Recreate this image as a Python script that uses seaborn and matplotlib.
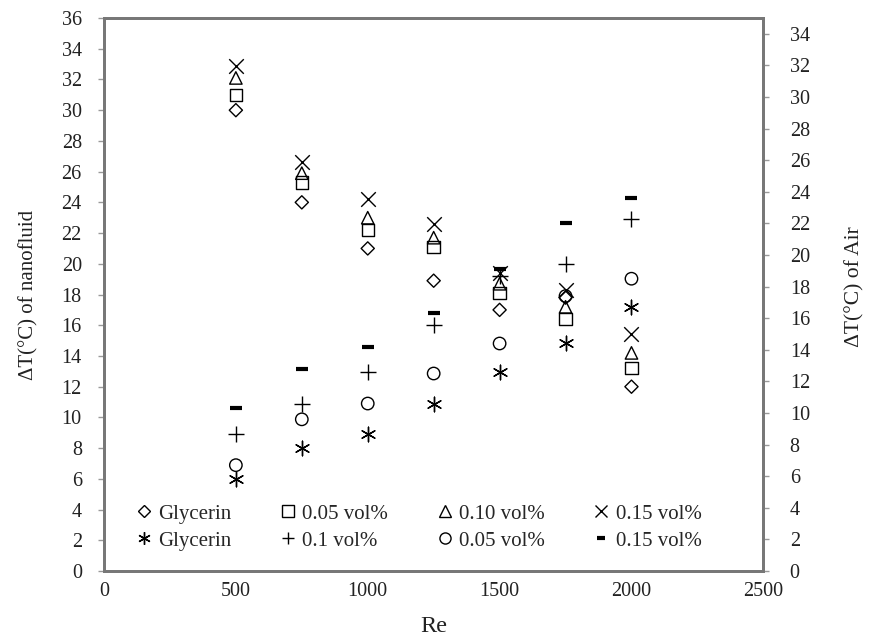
import matplotlib
matplotlib.use("Agg")
import matplotlib.pyplot as plt
import seaborn as sns
import pandas as pd
from matplotlib.lines import Line2D

sns.set_theme(style="white")
plt.rcParams['font.family'] = ['Liberation Serif', 'DejaVu Serif']

re_vals = [500, 750, 1000, 1250, 1500, 1750, 2000]

# Nanofluid dT (left axis)
nf_glycerin = [30.0, 24.0, 21.0, 18.9, 17.0, 17.8, 12.0]
nf_005 = [31.0, 25.3, 22.2, 21.1, 18.1, 16.4, 13.2]
nf_010 = [32.1, 25.9, 23.0, 21.7, 18.7, 17.2, 14.2]
nf_015 = [32.9, 26.6, 24.2, 22.6, 19.4, 18.3, 15.4]

# Air dT (right axis)
air_glycerin = [5.8, 7.8, 8.7, 10.6, 12.6, 14.4, 16.7]
air_01 = [8.7, 10.6, 12.6, 15.6, 18.7, 19.4, 22.3]
air_005 = [6.7, 9.6, 10.6, 12.5, 14.4, 17.4, 18.5]
air_015 = [10.3, 12.8, 14.2, 16.3, 19.1, 22.0, 23.6]

labels_nf = ["Glycerin", "0.05 vol%", "0.10 vol%", "0.15 vol%"]
labels_air = ["Glycerin", "0.1 vol%", "0.05 vol%", "0.15 vol%"]

fig = plt.figure(figsize=(8.71, 6.39), dpi=100)
ax = fig.add_axes([0.1194, 0.1064, 0.757, 0.8654])
ax2 = ax.twinx()

asterisk = (6, 2, 0)
k = "black"

nf_specs = [(nf_glycerin, "D", 45, True), (nf_005, "s", 80, True),
            (nf_010, "^", 80, True), (nf_015, "x", 110, False)]
air_specs = [(air_glycerin, asterisk, 110, False), (air_01, "+", 120, False),
             (air_005, "o", 80, True), (air_015, "_", 70, False)]

for vals, m, s, filled in nf_specs:
    df = pd.DataFrame({"Re": re_vals, "dT": vals})
    if filled:
        sns.scatterplot(data=df, x="Re", y="dT", ax=ax, marker=m, s=s,
                        facecolor="none", edgecolor=k, linewidth=1.0)
    else:
        sns.scatterplot(data=df, x="Re", y="dT", ax=ax, marker=m, s=s,
                        color=k, linewidth=1.0)

for vals, m, s, filled in air_specs:
    df = pd.DataFrame({"Re": re_vals, "dT": vals})
    if filled:
        sns.scatterplot(data=df, x="Re", y="dT", ax=ax2, marker=m, s=s,
                        facecolor="none", edgecolor=k, linewidth=1.0)
    else:
        lw = 3.0 if m == "_" else 1.0
        sns.scatterplot(data=df, x="Re", y="dT", ax=ax2, marker=m, s=s,
                        color=k, linewidth=lw)

ax.set_xlim(0, 2500)
ax.set_ylim(0, 36)
ax2.set_ylim(0, 35)
ax.set_xticks(range(0, 2501, 500))
ax.set_yticks(range(0, 37, 2))
ax2.set_yticks(range(0, 35, 2))

ax.set_xlabel("Re", fontsize=17.5, color="#222222")
ax.set_ylabel("ΔT(°C) of nanofluid", fontsize=15, color="#222222")
ax2.set_ylabel("ΔT(°C) of Air", fontsize=15.5, color="#222222")
ax.xaxis.set_label_coords(0.5, -0.081)
ax.yaxis.set_label_coords(-0.099, 0.5)
ax2.yaxis.set_label_coords(1.124, 0.515)

for a in (ax, ax2):
    for sp in a.spines.values():
        sp.set_color("#777777")
        sp.set_linewidth(2.0)
    a.tick_params(axis="both", labelsize=14.5, colors="#222222", length=4,
                  width=1, direction="out")
    a.tick_params(axis="both", which="major", color="#999999")
ax.tick_params(axis="x", length=0, pad=8)
ax.tick_params(axis="y", pad=12, left=True)
ax2.tick_params(axis="y", pad=15, right=True)

def h(m, filled, ms, mew=1.0):
    if filled:
        return Line2D([], [], linestyle="none", marker=m, markersize=ms,
                      markerfacecolor="none", markeredgecolor=k, markeredgewidth=mew)
    return Line2D([], [], linestyle="none", marker=m, markersize=ms,
                  color=k, markeredgewidth=mew)

hd = h("D", True, 6)
hs = h("s", True, 8)
ht = h("^", True, 8)
hx = h("x", False, 9)
ha = h(asterisk, False, 9)
hp = h("+", False, 9)
ho = h("o", True, 8)
hm = h("_", False, 6, 3.0)

handles = [hd, ha, hs, hp, ht, ho, hx, hm]
labels = [labels_nf[0], labels_air[0], labels_nf[1], labels_air[1],
          labels_nf[2], labels_air[2], labels_nf[3], labels_air[3]]
leg = ax2.legend(handles, labels, ncol=4, loc="lower left",
                 bbox_to_anchor=(0.035, 0.022), frameon=False, fontsize=15,
                 handlelength=0.8, handletextpad=0.3, columnspacing=2.3,
                 labelspacing=0.35, borderaxespad=0.0)

fig.savefig("out.png", dpi=100)
